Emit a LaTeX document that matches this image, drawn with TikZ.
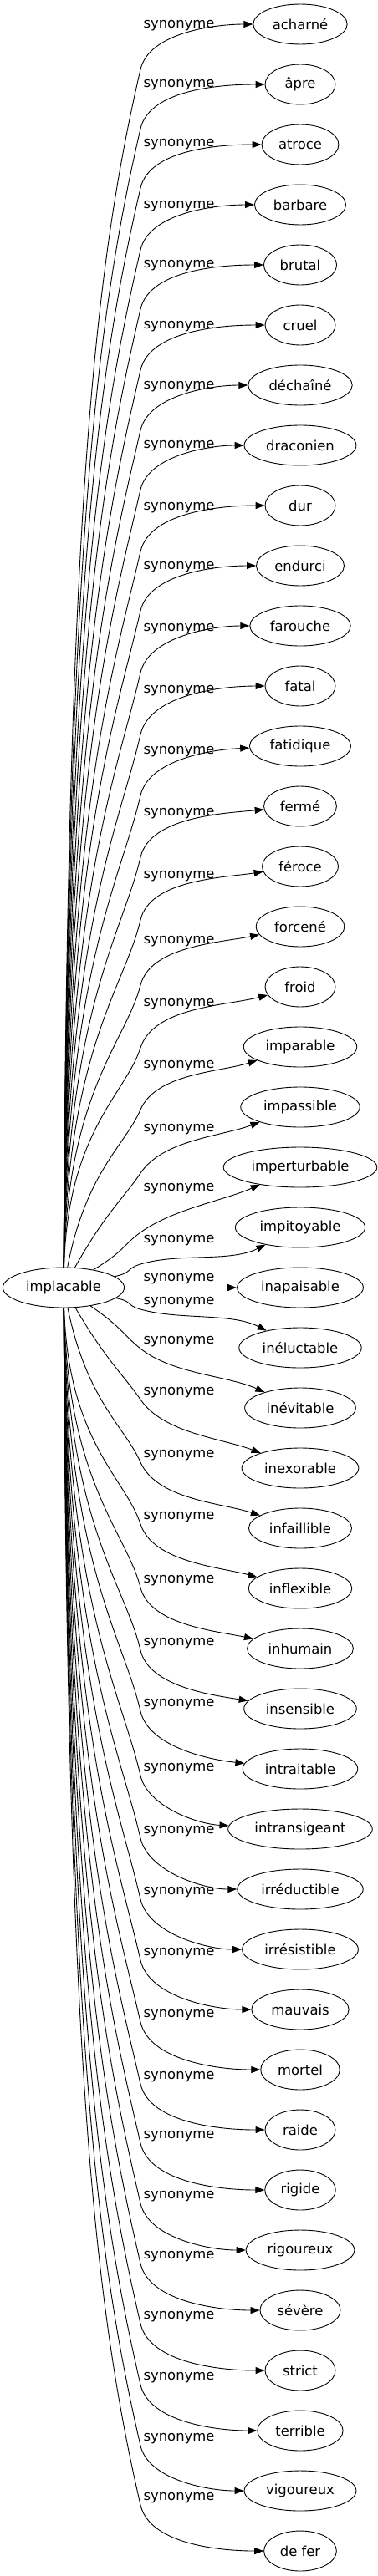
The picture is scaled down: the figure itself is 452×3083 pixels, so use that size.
\documentclass[tikz,border=0pt]{standalone}
\usepackage{fontspec}
\setmainfont{DejaVu Sans}
\usetikzlibrary{shapes.geometric, arrows.meta}

\begin{document}
\begin{tikzpicture}[x=1pt, y=1pt, ->, >={Triangle[length=11pt,width=8pt]}, line width=0.9pt, font=\fontsize{16.4}{19}\selectfont]
	\tikzstyle{word}=[ellipse, draw=black, line width=0.9pt, minimum height=48pt, minimum width=84pt, inner xsep=6.5pt, inner ysep=2pt]
	\tikzstyle{rel}=[inner sep=0pt]
	\useasboundingbox (0,0) rectangle (452,-3083);

	\node[word] (imp) at (76,-1541) {implacable};

	% inapaisable sits level with implacable
	\node[word] (t21) at (359,-1541) {inapaisable};
	\node[rel] (r21) at (214,-1531) {synonyme};
	\draw (imp) -- (t21);

	\foreach \i/\w/\ly in {0/acharné/31, 1/âpre/102, 2/atroce/173, 3/barbare/247, 4/brutal/318,
		5/cruel/391, 6/déchaîné/463, 7/draconien/534, 8/dur/608, 9/endurci/679,
		10/farouche/753, 11/fatal/827, 12/fatidique/900, 13/fermé/974, 14/féroce/1049,
		15/forcené/1127, 16/froid/1202, 17/imparable/1276, 18/impassible/1352,
		19/imperturbable/1423, 20/impitoyable/1485, 22/inéluctable/1559,
		23/inévitable/1606, 24/inexorable/1667, 25/infaillible/1742, 26/inflexible/1816,
		27/inhumain/1892, 28/insensible/1967, 29/intraitable/2040, 30/intransigeant/2117,
		31/irréductible/2192, 32/irrésistible/2265, 33/mauvais/2338, 34/mortel/2412,
		35/raide/2486, 36/rigide/2557, 37/rigoureux/2629, 38/sévère/2701, 39/strict/2773,
		40/terrible/2846, 41/vigoureux/2919, 42/de fer/2990}{
		\pgfmathsetmacro\ty{29+72*\i}
		\pgfmathsetmacro\yk{\ly<1541 ? \ly+min(52,0.5*(1541-\ly)) : \ly+8}
		\pgfmathsetmacro\vv{abs(1541-\yk)}
		\pgfmathsetmacro\ao{atan2(1541-\yk,92)}
		\pgfmathsetmacro\ga{\ao>0 ? min(77,\ao) : max(-77,\ao)}
		\pgfmathsetmacro\cb{0.15*\vv+15}
		\pgfmathsetmacro\pax{76+92*max(0.05,1-\vv/300)}
		\pgfmathsetmacro\pay{1541-0.65*(1541-\yk)}
		\pgfmathsetmacro\pbx{168-\cb*cos(\ga)}
		\pgfmathsetmacro\pby{\yk+\cb*sin(\ga)}
		\pgfmathsetmacro\ph{30*max(0,1-abs(\ty-1541)/700)}
		\pgfmathsetmacro\ea{\ao>0 ? 180+\ph : 180-\ph}
		\node[word] (t\i) at (359,-\ty) {\w};
		\node[rel] (r\i) at (214,-\ly) {synonyme};
		\coordinate (k\i) at (168,-\yk);
		\draw (imp) .. controls (\pax,-\pay) and (\pbx,-\pby) .. (k\i)
			to[out=\ga, in=\ea, looseness=0.8] (t\i);
	}
\end{tikzpicture}
\end{document}
